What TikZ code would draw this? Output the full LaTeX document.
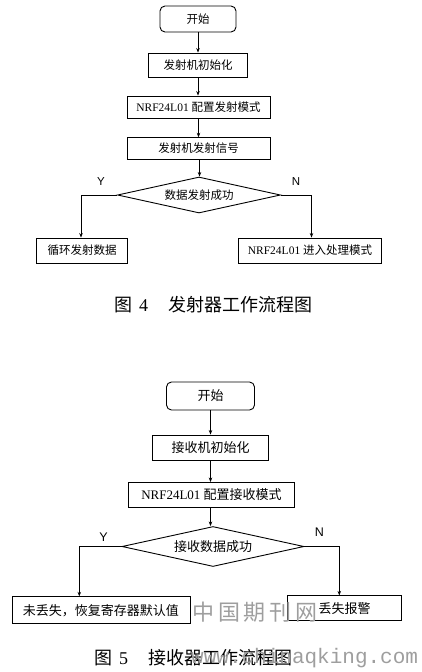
\documentclass[tikz,border=0pt]{standalone}
\usepackage{fontspec}
\setmainfont{Liberation Serif}
\newfontfamily\cjk{Noto Sans CJK SC}
\newfontfamily\arialf{Liberation Sans}
\newfontfamily\monof{Liberation Mono}
\newcommand\zh[1]{{\cjk #1}}
\usetikzlibrary{shapes.geometric,arrows.meta}
\tikzset{
  boxa/.style={draw, line width=0.9pt, inner sep=0pt, align=center, font=\fontsize{11.5}{13}\selectfont},
  boxb/.style={draw, line width=0.9pt, inner sep=0pt, align=center, font=\fontsize{13}{15}\selectfont},
  roundbox/.style={rounded corners=5pt},
  decision/.style={draw, diamond, line width=0.9pt, inner sep=0pt, shape aspect=4.5},
  arr/.style={line width=0.8pt, -{Stealth[length=4.5pt,width=3.5pt]}},
  yn/.style={font=\arialf\fontsize{11.5}{13}\selectfont, inner sep=0pt},
  captext/.style={font=\fontsize{18}{20}\selectfont, inner sep=0pt},
  wm/.style={text=black!38, inner sep=0pt}
}
\begin{document}
\begin{tikzpicture}[x=1pt,y=-1pt]
\useasboundingbox (0,0) rectangle (422,672);
% ---------- Figure 4 ----------
\node[boxa,roundbox,minimum width=76pt,minimum height=26pt] (s1) at (198,19) {\zh{开始}};
\node[boxa,minimum width=99pt,minimum height=24pt] (i1) at (198,65) {\zh{发射机初始化}};
\node[boxa,minimum width=143pt,minimum height=22pt] (c1) at (198.5,107) {NRF24L01 \zh{配置发射模式}};
\node[boxa,minimum width=143pt,minimum height=21.5pt] (g1) at (198.5,148.5) {\zh{发射机发射信号}};
\node[decision,minimum width=163pt,minimum height=36pt,font=\fontsize{11.5}{13}\selectfont] (d1) at (199,195) {\zh{数据发射成功}};
\node[boxa,minimum width=91pt,minimum height=25pt] (l1) at (82,250.5) {\zh{循环发射数据}};
\node[boxa,minimum width=143pt,minimum height=25pt] (r1) at (310,250.5) {NRF24L01 \zh{进入处理模式}};
\node[yn] (y1) at (101,182) {Y};
\node[yn] (n1) at (296,182) {N};
\draw[arr] (s1.south) -- (s1.south |- i1.north);
\draw[arr] (i1.south) -- (i1.south |- c1.north);
\draw[arr] (c1.south) -- (c1.south |- g1.north);
\draw[arr] ([xshift=1pt]g1.south) -- ([xshift=1pt]g1.south |- d1.north);
\draw[arr] (d1.west) -| ([xshift=-1pt]l1.north);
\draw[arr] (d1.east) -| ([xshift=1.5pt]r1.north);
\node[captext] (cap1) at (213,305) {\zh{图}\hspace{0.4em}4\hspace{1.1em}\zh{发射器工作流程图}};
% ---------- Figure 5 ----------
\node[boxb,roundbox,minimum width=88pt,minimum height=28pt] (s2) at (210.5,396) {\zh{开始}};
\node[boxb,minimum width=116pt,minimum height=25pt] (i2) at (210.5,447.5) {\zh{接收机初始化}};
\node[boxb,minimum width=166pt,minimum height=25pt] (c2) at (211.5,495) {NRF24L01 \zh{配置接收模式}};
\node[decision,minimum width=182pt,minimum height=40pt,font=\fontsize{13}{15}\selectfont] (d2) at (213,546.5) {\zh{接收数据成功}};
\node[boxb,minimum width=178pt,minimum height=27pt] (l2) at (101,610.3) {\zh{未丢失，恢复寄存器默认值}};
\node[boxb,minimum width=114pt,minimum height=25pt] (r2) at (344.5,608.4) {\zh{丢失报警}};
\node[yn,font=\arialf\fontsize{12.5}{14}\selectfont] (y2) at (103.5,537) {Y};
\node[yn,font=\arialf\fontsize{12.5}{14}\selectfont] (n2) at (319.5,532) {N};
\draw[arr] (s2.south) -- (s2.south |- i2.north);
\draw[arr] (i2.south) -- (i2.south |- c2.north);
\draw[arr] ([xshift=-1pt]c2.south) -- ([xshift=-1pt]c2.south |- d2.north);
\draw[arr] (d2.west) -| ([xshift=-21.7pt]l2.north);
\draw[arr] (d2.east) -| ([xshift=-5.2pt]r2.north);
\node[captext] (cap2) at (193,658) {\zh{图}\hspace{0.4em}5\hspace{1.1em}\zh{接收器工作流程图}};
% watermark
\node[wm,font=\cjk\fontsize{22}{24}\selectfont] (wm1) at (255,612) {中\,国\,期\,刊\,网};
\node[wm,font=\monof\fontsize{21}{23}\selectfont,anchor=west] (wm2) at (191,658) {www.chinaqking.com};
\end{tikzpicture}
\end{document}
